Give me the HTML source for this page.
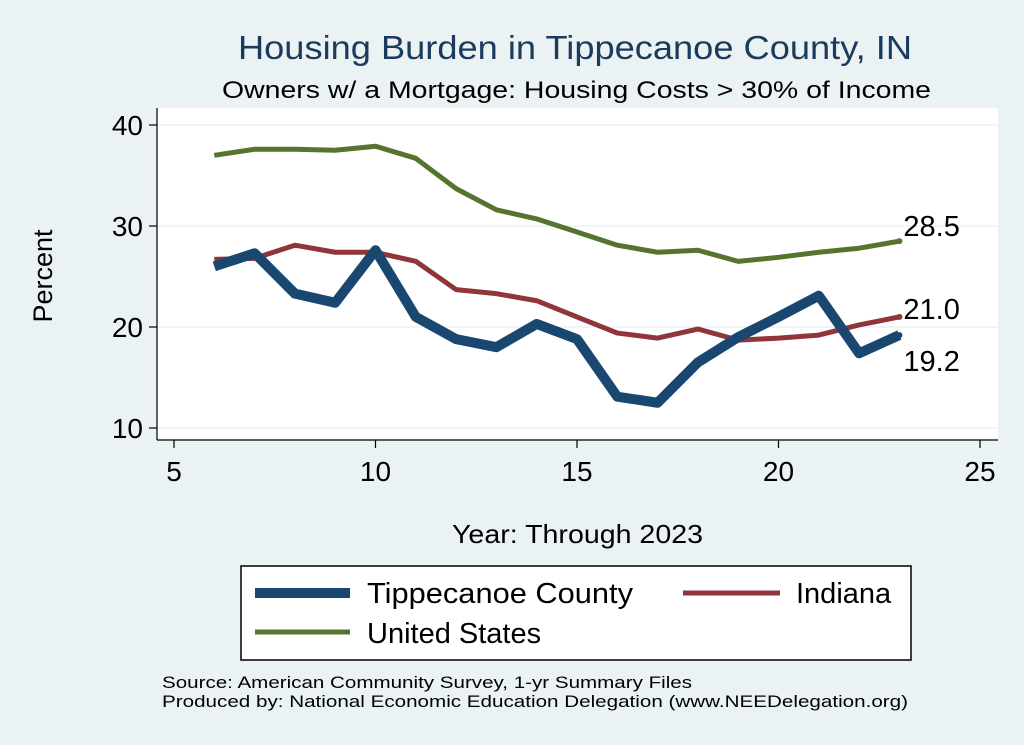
<!DOCTYPE html>
<html><head><meta charset="utf-8"><style>
body{margin:0;background:#eaf2f3;font-family:"Liberation Sans",Arial,sans-serif;}
svg{display:block}
</style></head><body>
<svg width="1024" height="745" viewBox="0 0 1024 745">
<rect x="0" y="0" width="1024" height="745" fill="#eaf2f3"/>
<text x="238" y="59" font-size="33" fill="#1b3a5c" textLength="674" lengthAdjust="spacingAndGlyphs">Housing Burden in Tippecanoe County, IN</text>
<text x="222" y="98" font-size="24" fill="#000" textLength="709" lengthAdjust="spacingAndGlyphs">Owners w/ a Mortgage: Housing Costs &gt; 30% of Income</text>
<rect x="157" y="108" width="841" height="332" fill="#fff"/>
<g id="grid"></g>
<g id="axes"></g>
<g id="series"></g>
<text x="52" y="276" font-size="27" text-anchor="middle" transform="rotate(-90 52 276)">Percent</text>
<text x="452" y="543" font-size="26" textLength="251" lengthAdjust="spacingAndGlyphs">Year: Through 2023</text>
<g>
<rect x="241" y="566" width="670" height="94" fill="#fff" stroke="#000" stroke-width="1.5"/>
<line x1="255" y1="593" x2="350" y2="593" stroke="#1a476f" stroke-width="10"/>
<text x="367" y="603" font-size="29" textLength="266" lengthAdjust="spacingAndGlyphs">Tippecanoe County</text>
<line x1="683" y1="593" x2="780" y2="593" stroke="#90353b" stroke-width="5"/>
<text x="796" y="603" font-size="29">Indiana</text>
<line x1="255" y1="632" x2="350" y2="632" stroke="#55752f" stroke-width="5"/>
<text x="367" y="643" font-size="29">United States</text>
</g>
<text x="162" y="688" font-size="17" textLength="530" lengthAdjust="spacingAndGlyphs">Source: American Community Survey, 1-yr Summary Files</text>
<text x="162" y="707" font-size="17" textLength="746" lengthAdjust="spacingAndGlyphs">Produced by: National Economic Education Delegation (www.NEEDelegation.org)</text>
</svg>
<script>
const years=[6,7,8,9,10,11,12,13,14,15,16,17,18,19,20,21,22,23];
const usVals=[37.0,37.6,37.6,37.5,37.9,36.7,33.7,31.6,30.7,29.4,28.1,27.4,27.6,26.5,26.9,27.4,27.8,28.5];
const inVals=[26.7,26.8,28.1,27.4,27.4,26.5,23.7,23.3,22.6,21.0,19.4,18.9,19.8,18.7,18.9,19.2,20.2,21.0];
const tcVals=[26.0,27.3,23.3,22.4,27.6,21.0,18.8,18.0,20.3,18.8,13.1,12.5,16.5,19.0,21.0,23.1,17.4,19.2];
const xTicks=[5,10,15,20,25];
const yTicks=[10,20,30,40];
const NS='http://www.w3.org/2000/svg';
const X=v=>174+(v-5)*40.3, Y=v=>428-(v-10)*10.1;
function mk(t,a,p){const e=document.createElementNS(NS,t);for(const k in a)e.setAttribute(k,a[k]);p.appendChild(e);return e;}
const grid=document.getElementById('grid'),axes=document.getElementById('axes'),ser=document.getElementById('series');
mk('line',{x1:157,y1:440,x2:998,y2:440,stroke:'#000','stroke-width':1.2},axes);
mk('line',{x1:157,y1:108,x2:157,y2:440,stroke:'#000','stroke-width':1.2},axes);
yTicks.forEach(v=>{
 const g=mk('line',{x1:157,x2:998,y1:Y(v),y2:Y(v),stroke:'#eaf2f3','stroke-width':1.5},grid);
 
 
 mk('line',{x1:149,x2:157,y1:Y(v),y2:Y(v),stroke:'#000','stroke-width':1.2},axes);
 const t=mk('text',{x:143,y:Y(v)+10,'font-size':28,'text-anchor':'end'},axes);t.textContent=v;
 
 
});
xTicks.forEach(v=>{
 mk('line',{x1:X(v),x2:X(v),y1:440,y2:448,stroke:'#000','stroke-width':1.2},axes);
 const t=mk('text',{x:X(v),y:481,'font-size':28,'text-anchor':'middle'},axes);t.textContent=v;
 
 
});
function line(vals,color,w,name){
 const p=mk('polyline',{points:vals.map((v,i)=>X(years[i])+','+Y(v)).join(' '),fill:'none',stroke:color,'stroke-width':w,'stroke-linejoin':'round'},ser);
 
 
 const n=vals.length-1;
 mk('circle',{cx:X(years[n]),cy:Y(vals[n]),r:3,fill:color},ser);
}
line(usVals,'#55752f',5,'line-united-states');
line(inVals,'#90353b',5,'line-indiana');
line(tcVals,'#1a476f',10,'line-tippecanoe');
const n=years.length-1;
[[usVals[n],-5],[inVals[n],2],[tcVals[n],36]].forEach((a,i)=>{
 const t=mk('text',{x:X(years[n])+4,y:Y(a[0])+a[1],'font-size':29},ser);
 t.textContent=a[0].toFixed(1);
 
 
});
</script>
</body></html>
